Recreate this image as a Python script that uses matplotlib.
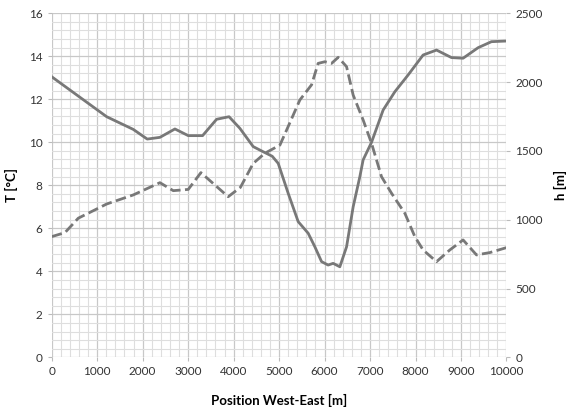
import numpy as np
import matplotlib.pyplot as plt
from matplotlib.ticker import MultipleLocator

plt.rcParams['font.family'] = ['Lato', 'DejaVu Sans']

# temperature profile (left axis)
t_pos = [0, 1209, 1794, 2101, 2380, 2710, 3003, 3318, 3626, 3900, 4138, 4431,
         4651, 4850, 4981, 5200, 5420, 5640, 5787, 5934, 6079, 6189, 6336,
         6484, 6629, 6776, 6848, 7033, 7288, 7545, 7837, 8167, 8462, 8791,
         9046, 9376, 9670, 10000]
t_val = [13.05, 11.19, 10.6, 10.15, 10.23, 10.62, 10.31, 10.31, 11.07, 11.19,
         10.65, 9.8, 9.56, 9.35, 9.02, 7.63, 6.31, 5.77, 5.14, 4.45, 4.29,
         4.37, 4.21, 5.14, 7.0, 8.4, 9.18, 10.0, 11.5, 12.35, 13.13, 14.06,
         14.29, 13.94, 13.91, 14.4, 14.68, 14.71]

# elevation profile (right axis)
h_pos = [0, 292, 585, 1209, 1794, 2380, 2673, 3003, 3281, 3881, 4150, 4431,
         4688, 5018, 5200, 5457, 5714, 5859, 6007, 6154, 6300, 6484, 6629,
         6848, 7033, 7253, 7473, 7765, 7985, 8167, 8462, 8754, 9046, 9341,
         9633, 10000]
h_val = [877, 906, 1011, 1114, 1180, 1269, 1211, 1220, 1342, 1167, 1235, 1409,
         1483, 1542, 1677, 1870, 1980, 2136, 2148, 2136, 2180, 2112, 1906,
         1725, 1555, 1312, 1192, 1047, 877, 780, 695, 780, 853, 744, 761, 797]

line_col = '#787878'

fig = plt.figure(figsize=(5.71, 4.09), dpi=100)
ax = fig.add_axes([0.0905, 0.1264, 0.7965, 0.8411])
ax2 = ax.twinx()

ax.set_xlim(0, 10000)
ax.set_ylim(0, 16)
ax2.set_ylim(0, 2500)

ax.xaxis.set_major_locator(MultipleLocator(1000))
ax.xaxis.set_minor_locator(MultipleLocator(200))
ax.yaxis.set_major_locator(MultipleLocator(2))
ax.yaxis.set_minor_locator(MultipleLocator(0.4))
ax2.yaxis.set_major_locator(MultipleLocator(500))

ax.grid(which='minor', color='#dedede', lw=0.8)
ax.grid(which='major', color='#c8c8c8', lw=0.9)
ax.set_axisbelow(True)

for a in (ax, ax2):
    for s in a.spines.values():
        s.set_visible(False)
ax.tick_params(which='minor', length=0)
ax2.tick_params(which='minor', length=0)
ax.tick_params(axis='both', which='major', length=3, color='#bbbbbb',
               labelsize=8.5, labelcolor='#333333')
ax2.tick_params(axis='y', which='major', length=3, color='#bbbbbb',
                labelsize=8.5, labelcolor='#333333')

ax.plot(t_pos, t_val, color=line_col, lw=2.0, solid_joinstyle='round')
ax2.plot(h_pos, h_val, color=line_col, lw=2.0, dashes=(3.8, 1.6))

ax.set_xlabel('Position West-East [m]', fontsize=9.5, fontweight='bold',
              labelpad=12)
ax.set_ylabel('T [°C]', fontsize=9.5, fontweight='bold', labelpad=8)
ax2.set_ylabel('h [m]', fontsize=9.5, fontweight='bold', labelpad=8)

fig.savefig('out.png', dpi=100)
